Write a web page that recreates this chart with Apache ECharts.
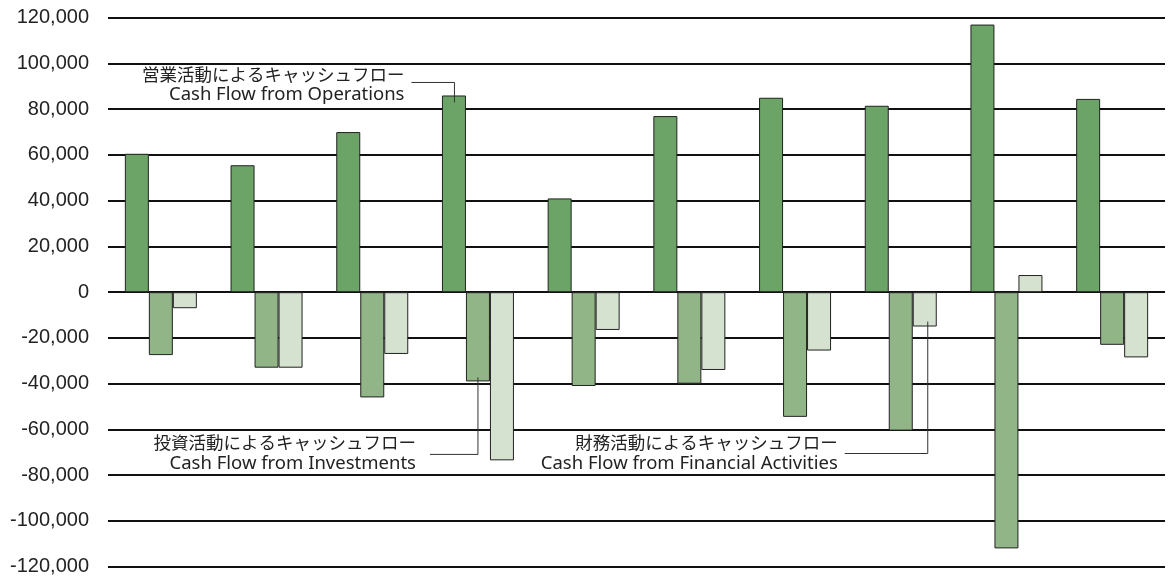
<!DOCTYPE html>
<html>
<head>
<meta charset="utf-8">
<script src="https://cdn.jsdelivr.net/npm/echarts@6/dist/echarts.min.js"></script>
<style>
html,body{margin:0;padding:0;background:#fff;}
#c{width:1170px;height:581px;}
</style>
</head>
<body>
<div id="c"></div>
<script>
const categories = ['2010','2011','2012','2013','2014','2015','2016','2017','2018','2019'];
const operations = [60500, 55500, 70000, 86000, 41000, 77000, 85000, 81500, 117000, 84500];
const investments = [-27500, -33000, -46000, -39000, -41000, -40000, -54500, -60500, -112000, -23000];
const financial = [-7000, -33000, -27000, -73500, -16500, -34000, -25500, -15000, 7500, -28500];
const yTicks = {min: -120000, max: 120000, interval: 20000};
const labelOps = ['営業活動によるキャッシュフロー', 'Cash Flow from Operations'];
const labelInv = ['投資活動によるキャッシュフロー', 'Cash Flow from Investments'];
const labelFin = ['財務活動によるキャッシュフロー', 'Cash Flow from Financial Activities'];

const chart = echarts.init(document.getElementById('c'), null, {renderer: 'canvas'});
const BW = 24;
const border = {borderColor: '#222', borderWidth: 1};
function fmt(v){ return v.toLocaleString('en-US'); }
chart.setOption({
  animation: false,
  backgroundColor: '#fff',
  grid: {left: 108, right: 5, top: 17.7, bottom: 14.3, containLabel: false, outerBoundsMode: 'none'},
  xAxis: {
    type: 'category', data: categories, position: 'bottom',
    axisLine: {show: false, onZero: false}, axisTick: {show: false},
    axisLabel: {margin: 13, color: '#bbb', fontFamily: 'Liberation Sans, sans-serif', fontSize: 20},
    splitLine: {show: false}
  },
  yAxis: {
    type: 'value', min: yTicks.min, max: yTicks.max, interval: yTicks.interval,
    axisLine: {show: false}, axisTick: {show: false},
    axisLabel: {margin: 19, color: '#222', fontFamily: 'Liberation Sans, sans-serif', fontSize: 20, formatter: fmt},
    splitLine: {show: true, lineStyle: {color: '#111', width: 2}}
  },
  series: [
    {name: 'ops', type: 'bar', data: operations, barWidth: BW, barGap: '0%', itemStyle: Object.assign({color: '#6ca366'}, border)},
    {name: 'inv', type: 'bar', data: investments, barWidth: BW, barGap: '0%', itemStyle: Object.assign({color: '#92b587'}, border)},
    {name: 'fin', type: 'bar', data: financial, barWidth: BW, barGap: '0%', itemStyle: Object.assign({color: '#d6e2d0'}, border)}
  ]
});

function px(cat, val){ return chart.convertToPixel({gridIndex: 0}, [cat, val]); }
const lineStyle = {stroke: '#333', lineWidth: 1, fill: null};
const jpFont = '17.5px "Noto Sans CJK JP", sans-serif';
const enFont = '18.5px "Noto Sans", "Noto Sans CJK JP", sans-serif';
function txt(x, y, s, font){
  return {type: 'text', x: x, y: y, style: {text: s, font: font, fill: '#222', align: 'right', verticalAlign: 'middle'}, z: 10};
}
const g = [];
// Operations annotation (2013 operations bar top)
let a = px('2013', operations[3]); let ax = a[0] - BW + 0.5, ay = a[1];
g.push({type: 'polyline', shape: {points: [[ax - 43, ay - 13], [ax, ay - 13], [ax, ay + 7]]}, style: lineStyle, z: 10});
g.push(txt(ax - 50, ay - 21, labelOps[0], jpFont));
g.push(txt(ax - 50, ay - 1, labelOps[1], enFont));
// Investments annotation (2013 investments bar bottom)
a = px('2013', investments[3]); ax = a[0]; ay = a[1];
g.push({type: 'polyline', shape: {points: [[ax - 48, ay + 73], [ax, ay + 73], [ax, ay - 4]]}, style: lineStyle, z: 10});
g.push(txt(ax - 62, ay + 61, labelInv[0], jpFont));
g.push(txt(ax - 62, ay + 82, labelInv[1], enFont));
// Financial annotation (2017 financial bar bottom)
a = px('2017', financial[7]); ax = a[0] + BW + 3; ay = a[1];
g.push({type: 'polyline', shape: {points: [[ax - 83, ay + 127], [ax, ay + 127], [ax, ay - 5]]}, style: lineStyle, z: 10});
g.push(txt(ax - 90, ay + 116, labelFin[0], jpFont));
g.push(txt(ax - 90, ay + 137, labelFin[1], enFont));
chart.setOption({graphic: g});
</script>
</body>
</html>
